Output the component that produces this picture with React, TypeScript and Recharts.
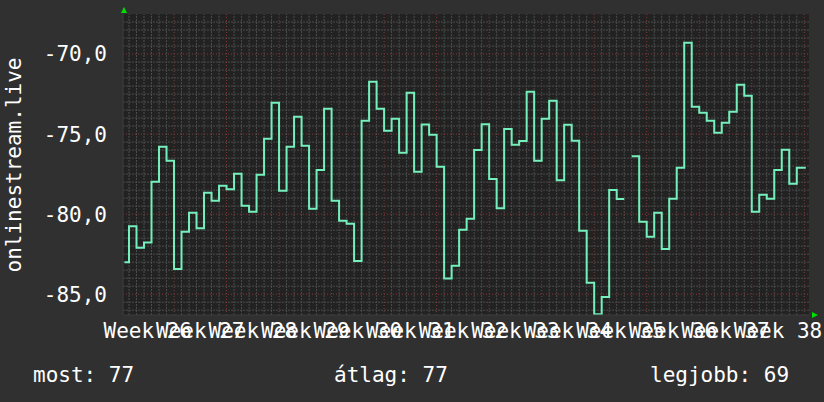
import React from "react";
import {
  LineChart,
  Line,
  XAxis,
  YAxis,
  CartesianGrid,
  ReferenceLine,
} from "recharts";

// Daily signal level (dB), one value per day, null = missing day
const signalValues: (number | null)[] = [
  -83.0, -80.75, -82.1, -81.77, -77.98, -75.79, -76.67, -83.42, -81.1, -79.92,
  -80.88, -78.67, -79.17, -78.23, -78.44, -77.48, -79.48, -79.85, -77.54, -75.29,
  -73.04, -78.54, -75.79, -73.92, -75.73, -79.67, -77.25, -73.42, -79.17, -80.42,
  -80.6, -82.92, -74.17, -71.73, -73.42, -74.79, -74.04, -76.17, -72.42, -77.35,
  -74.4, -75.04, -77.04, -84.02, -83.23, -80.98, -80.29, -76.0, -74.38, -77.81,
  -79.63, -74.69, -75.67, -75.44, -72.35, -76.67, -74.04, -72.92, -77.88, -74.42,
  -75.42, -81.04, -84.29, -86.25, -85.17, -78.5, -79.06, null, -76.38, -80.48,
  -81.42, -79.92, -82.17, -79.04, -77.1, -69.29, -73.29, -73.67, -74.17, -74.92,
  -74.29, -73.6, -71.92, -72.6, -79.85, -78.79, -79.04, -77.25, -75.98, -78.1,
  -77.1,
];

// time span (in days from the start of week 26)
const firstDay = 0.4;
const lastDay = 91.2;
const viewStart = 0.2;
const viewEnd = 91.63;

const weekLabels = [
  "Week 26", "Week 27", "Week 28", "Week 29", "Week 30", "Week 31", "Week 32",
  "Week 33", "Week 34", "Week 35", "Week 36", "Week 37", "Week 38",
];
const yTicks = [-70, -75, -80, -85];
const yMin = -86.3;
const yMax = -67.5;

// legend: label and printed value (as shown under the chart)
const legendLabels = ["most", "átlag", "legjobb"];
const legendValues = [77, 77, 69];

// ---- derived tables ----
const rows: { day: number; signal: number | null }[] = [];
signalValues.forEach((v, i) => {
  const from = i === 0 ? firstDay : i;
  const to = i === signalValues.length - 1 ? lastDay : i + 1;
  if (v === null) {
    rows.push({ day: i + 0.5, signal: null });
    return;
  }
  rows.push({ day: from, signal: v }, { day: to, signal: v });
});

const weekCenters = weekLabels.map((_, k) => 3.5 + 7 * k);
const dayLines: number[] = [];
for (let d = 1; d <= Math.floor(viewEnd); d++) if (d % 7 !== 0) dayLines.push(d);
const weekLines: number[] = [];
for (let d = 7; d <= viewEnd; d += 7) weekLines.push(d);
const minorY: number[] = [];
for (let v = -86; v <= -68; v += 0.5) if (v % 5 !== 0) minorY.push(v);

const FONT = "'DejaVu Sans Mono', monospace";
const MINOR = "#4c4c4c";
const MAJOR = "#843838";

export default function App() {
  return (
    <div
      style={{
        position: "absolute",
        left: 0,
        top: 0,
        width: 824,
        height: 402,
        background: "#303030",
        overflow: "hidden",
      }}
    >
      <LineChart
        width={824}
        height={402}
        data={rows}
        margin={{ top: 14, right: 15, bottom: 57, left: 0 }}
      >
        <CartesianGrid fill="#222222" horizontal={false} vertical={false} />
        {minorY.map((v) => (
          <ReferenceLine key={"hy" + v} y={v} stroke={MINOR} strokeDasharray="2 1" />
        ))}
        {dayLines.map((d) => (
          <ReferenceLine key={"vx" + d} x={d} stroke={MINOR} strokeDasharray="2 1" />
        ))}
        {yTicks.map((v) => (
          <ReferenceLine key={"HY" + v} y={v} stroke={MAJOR} strokeDasharray="1 2" />
        ))}
        {weekLines.map((d) => (
          <ReferenceLine key={"VX" + d} x={d} stroke={MAJOR} strokeDasharray="1 2" />
        ))}
        <XAxis
          dataKey="day"
          type="number"
          domain={[viewStart, viewEnd]}
          allowDataOverflow
          ticks={weekCenters}
          interval={0}
          tickFormatter={(v: number) => weekLabels[Math.round((v - 3.5) / 7)]}
          tickLine={false}
          tickSize={6}
          tickMargin={2}
          axisLine={{ stroke: "#3c3c3c" }}
          height={30}
          tick={{ fill: "#ffffff", fontSize: 21, fontFamily: FONT }}
        />
        <YAxis
          type="number"
          domain={[yMin, yMax]}
          allowDataOverflow
          ticks={yTicks}
          interval={0}
          tickFormatter={(v: number) => v.toFixed(1).replace(".", ",")}
          tickLine={false}
          tickSize={6}
          tickMargin={10}
          axisLine={{ stroke: "#3c3c3c" }}
          width={123}
          tick={{ fill: "#ffffff", fontSize: 21, fontFamily: FONT }}
        />
        <Line
          dataKey="signal"
          type="linear"
          stroke="#74f0bc"
          strokeWidth={2}
          dot={false}
          activeDot={false}
          connectNulls={false}
          isAnimationActive={false}
        />
      </LineChart>
      <svg
        width={824}
        height={402}
        style={{ position: "absolute", left: 0, top: 0, pointerEvents: "none" }}
      >
        <text
          x={14}
          y={165}
          transform="rotate(-90 14 165)"
          textAnchor="middle"
          dominantBaseline="central"
          fill="#ffffff"
          fontSize={21}
          fontFamily={FONT}
        >
          onlinestream.live
        </text>
        <text x={33} y={382} fill="#ffffff" fontSize={21} fontFamily={FONT}>
          {`${legendLabels[0]}: ${legendValues[0]}`}
        </text>
        <text x={334} y={382} fill="#ffffff" fontSize={21} fontFamily={FONT}>
          {`${legendLabels[1]}: ${legendValues[1]}`}
        </text>
        <text x={650} y={382} fill="#ffffff" fontSize={21} fontFamily={FONT}>
          {`${legendLabels[2]}: ${legendValues[2]}`}
        </text>
        <polygon points="121,13 127,13 124,7" fill="#00e000" />
        <polygon points="812,312 812,318 818,315" fill="#00e000" />
      </svg>
    </div>
  );
}
